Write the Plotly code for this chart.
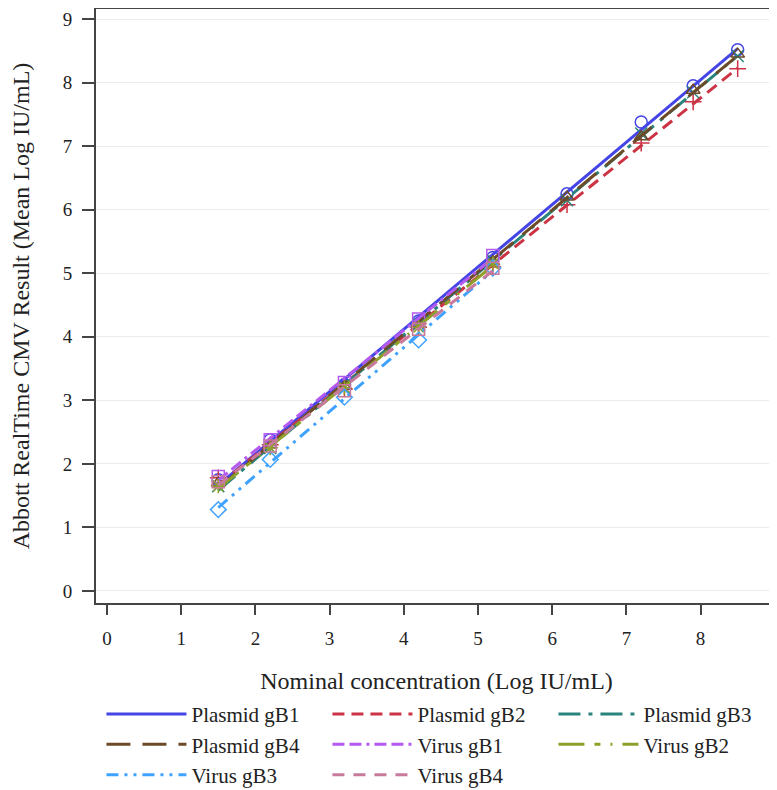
import numpy as np
import plotly.graph_objects as go

# ---- data ----
plasmid_x = [1.5, 2.2, 3.2, 4.2, 5.2, 6.2, 7.2, 7.9, 8.5]
virus_x = [1.5, 2.2, 3.2, 4.2, 5.2]

plasmid_gb1 = [1.75, 2.38, 3.25, 4.25, 5.25, 6.25, 7.38, 7.95, 8.52]
plasmid_gb2 = [1.78, 2.30, 3.18, 4.15, 5.10, 6.08, 7.05, 7.70, 8.22]
plasmid_gb3 = [1.65, 2.25, 3.20, 4.20, 5.20, 6.15, 7.20, 7.85, 8.42]
plasmid_gb4 = [1.70, 2.30, 3.22, 4.20, 5.18, 6.20, 7.15, 7.88, 8.45]
virus_gb1 = [1.80, 2.38, 3.28, 4.28, 5.28]
virus_gb2 = [1.65, 2.25, 3.20, 4.15, 5.15]
virus_gb3 = [1.28, 2.07, 3.05, 3.95, 5.08]
virus_gb4 = [1.72, 2.28, 3.15, 4.12, 5.08]

names = ["Plasmid gB1", "Plasmid gB2", "Plasmid gB3", "Plasmid gB4",
         "Virus gB1", "Virus gB2", "Virus gB3", "Virus gB4"]
xs = [plasmid_x] * 4 + [virus_x] * 4
ys = [plasmid_gb1, plasmid_gb2, plasmid_gb3, plasmid_gb4,
      virus_gb1, virus_gb2, virus_gb3, virus_gb4]

colors = ["#4545E6", "#CC3344", "#2A847C", "#6B4A28",
          "#B45AF0", "#8FA02A", "#3FA2FF", "#C87A9C"]
dashes = ["solid", "12px,7px", "22px,8px,4px,8px", "24px,12px",
          "12px,5px,12px,5px,3px,5px", "26px,10px,6px,10px,2px,10px",
          "12px,6px,3px,6px,3px,6px", "12px,9px"]
symbols = ["circle-open", "cross-thin-open", "x-thin-open", "triangle-up-open",
           "square-open", "asterisk-open", "diamond-open", "square-open"]

font_family = "Liberation Serif"

fig = go.Figure()
for name, x, y, c, d, s in zip(names, xs, ys, colors, dashes, symbols):
    xa = np.array(x)
    ya = np.array(y)
    b, a = np.polyfit(xa, ya, 1)
    lx = np.array([xa.min(), xa.max()])
    fig.add_trace(go.Scatter(
        x=xa, y=ya, mode="markers", name=name, legendgroup=name, showlegend=False,
        marker=dict(symbol=s, size=12, color=c, line=dict(color=c, width=1.5)),
    ))
    fig.add_trace(go.Scatter(
        x=lx, y=a + b * lx, mode="lines", name=name, legendgroup=name,
        line=dict(color=c, width=3, dash=d),
    ))

fig.update_layout(
    width=769, height=782,
    margin=dict(l=88, r=0, t=1, b=187, autoexpand=False),
    paper_bgcolor="white", plot_bgcolor="white",
    font=dict(family=font_family, size=19, color="#222222"),
    showlegend=True,
    legend=dict(
        orientation="h", x=0.008, y=-0.153, xanchor="left", yanchor="top",
        entrywidth=131, entrywidthmode="pixels", itemwidth=80,
        font=dict(family=font_family, size=21, color="#222222"),
        tracegroupgap=0, traceorder="normal",
    ),
    xaxis=dict(
        range=[-0.148, 9.03], tickmode="array", tickvals=list(range(10)),
        ticks="outside", ticklen=10, tickwidth=1.5, tickcolor="#444444",
        ticklabelstandoff=7, ticklabeloverflow="allow",
        showline=True, linecolor="#444444", linewidth=2, mirror=True,
        showgrid=False, zeroline=False, automargin=False,
        title=dict(text="Nominal concentration (Log IU/mL)", standoff=24,
                   font=dict(size=24)),
        tickfont=dict(size=19),
    ),
    yaxis=dict(
        range=[-0.19, 9.16], tickmode="array", tickvals=list(range(10)),
        ticks="outside", ticklen=12, tickwidth=1.5, tickcolor="#444444",
        ticklabelstandoff=6,
        showline=True, linecolor="#444444", linewidth=2,
        showgrid=True, gridcolor="#EBEBEB", gridwidth=1, zeroline=False,
        automargin=False,
        title=dict(text="Abbott RealTime CMV Result (Mean Log IU/mL)", standoff=30,
                   font=dict(size=24)),
        tickfont=dict(size=19),
    ),
)

fig.write_html("out.html")
